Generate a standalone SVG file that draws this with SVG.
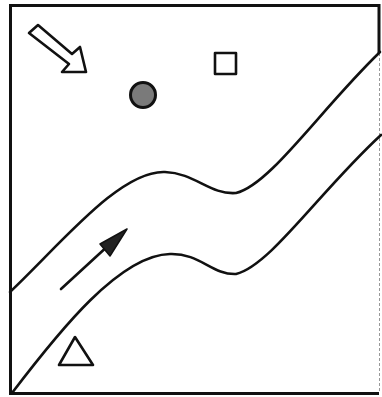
<svg xmlns="http://www.w3.org/2000/svg" width="382" height="397" viewBox="0 0 382 397">
<style>
.ln{fill:none;stroke:#111;stroke-width:2.6;stroke-linecap:round;stroke-linejoin:round}
.sh{fill:#fff;stroke:#111;stroke-width:2.6;stroke-linejoin:round}
</style>
<rect x="0" y="0" width="382" height="397" fill="#fff"/>
<g id="frame">
<path d="M379,53 L379,5.5 L10.5,5.5 L10.5,393.5 L379,393.5" fill="none" stroke="#111" stroke-width="3"/>
<line x1="379.5" y1="53" x2="379.5" y2="393" stroke="#999" stroke-width="1" stroke-dasharray="3,2"/>
</g>
<g id="road">
<path class="ln" d="M10,292 C60,245 120,170 165,172 C195,173 210,195 236,193 C270,185 320,110 380,52"/>
<path class="ln" d="M12,393 C60,330 120,255 170,254 C200,253 212,275 236,274 C270,266 320,191 381,135"/>
</g>
<g id="connectors">
<line class="ln" x1="61" y1="289" x2="110" y2="244"/>
<polygon points="127,229 100,244 110,256" fill="#222" stroke="#111" stroke-width="1.5" stroke-linejoin="round"/>
</g>
<g id="block-arrow">
<polygon class="sh" points="38,25 72,54 80,47 86,72 62,72 69,64 29,33"/>
</g>
<g id="circle">
<circle cx="143" cy="95" r="12.5" fill="#7a7a7a" stroke="#111" stroke-width="3"/>
</g>
<g id="square">
<rect class="sh" x="215" y="53" width="21" height="21" stroke-width="3"/>
</g>
<g id="triangle">
<polygon class="sh" points="75,337 59,365 93,365" stroke-width="3"/>
</g>
</svg>
